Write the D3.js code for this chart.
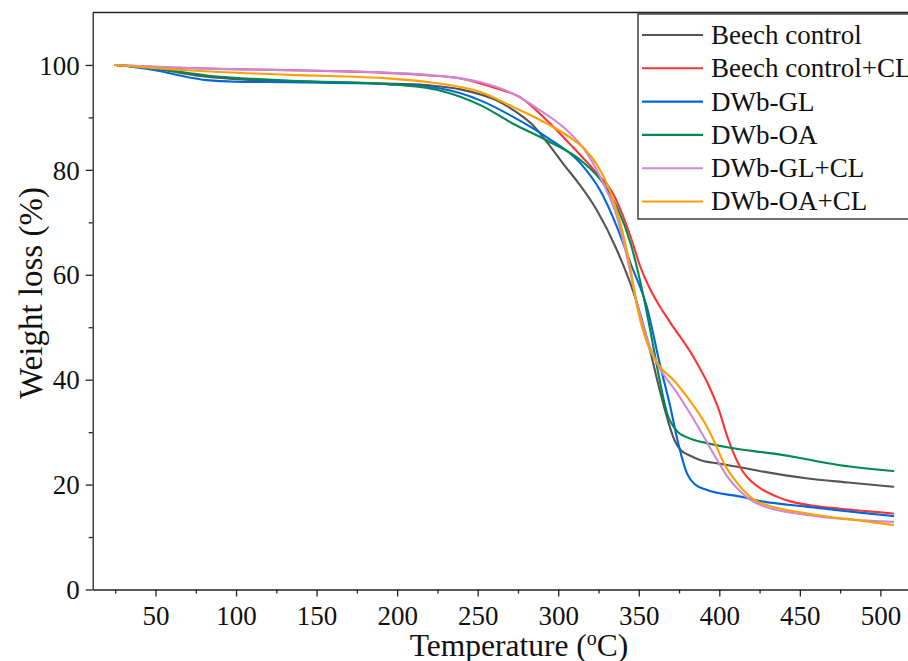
<!DOCTYPE html>
<html>
<head>
<meta charset="utf-8">
<script src="https://cdn.jsdelivr.net/npm/d3@7"></script>
<style>
  html, body { margin: 0; padding: 0; background: #fff; }
  svg { display: block; }
  text { font-family: "Liberation Serif", "Times New Roman", serif; fill: #111; }
</style>
</head>
<body>
<svg id="chart" width="908" height="661"></svg>
<script>
// ---------- data ----------
const seriesNames = ["Beech control", "Beech control+CL", "DWb-GL", "DWb-OA", "DWb-GL+CL", "DWb-OA+CL"];
const seriesColors = ["#555555", "#ff3333", "#0066dd", "#008a50", "#cc88dd", "#ffa000"];

const beechControl = [[25,100],[50,99.3],[75,98.0],[100,97.3],[150,96.8],[200,96.4],[220,96.1],[240,95.3],[262,93.2],[275,90.8],[284,88.6],[293,85.3],[303,81.2],[313,77.3],[324,72.3],[336,65.0],[347,56.4],[357,45.6],[363,38],[368,32.3],[372,28.6],[376,26.6],[382,25.5],[388,24.7],[400,24.0],[413,23.3],[425,22.6],[454,21.2],[480,20.4],[508,19.6]];
const beechControlCL = [[25,100],[50,99.6],[100,99.2],[150,98.9],[200,98.4],[220,98.0],[240,97.4],[262,95.5],[276,93.9],[293,89.4],[307,85.0],[324,79.3],[334,75.5],[345,67.2],[351,61.5],[357,57.3],[363,54.0],[370,50.7],[384,44.3],[394,38.5],[400,34],[405,29.1],[410,25.2],[415,22.3],[420,20.6],[426,19.2],[435,17.8],[444,16.8],[460,15.9],[475,15.4],[508,14.5]];
const dwbGL = [[25,100],[50,99.0],[65,98.0],[82,97.1],[100,96.8],[134,96.7],[196,96.3],[227,95.5],[252,93.2],[272,90.1],[293,86.2],[314,81.2],[326,76.1],[336.5,69.1],[345,62.1],[355,53.9],[363,43.1],[369.6,34.8],[374,28.5],[380,22.1],[385,20.0],[392,19.0],[415,17.6],[423,17.0],[454,15.8],[508,14.0]];
const dwbOA = [[25,100],[51,99.3],[82,98.0],[134,97.0],[196,96.3],[227,95.1],[252,92.3],[272,88.8],[293,85.6],[314,81.8],[328,77.4],[336.5,72.9],[345,65.9],[353,55.8],[358,48],[361.4,42.4],[367.6,33.6],[374,30.1],[380,29.0],[394,27.8],[426,26.2],[434,25.9],[475,23.7],[508,22.6]];
const dwbGLCL = [[25,100],[72,99.4],[134,99.0],[196,98.5],[227,97.9],[252,96.7],[272,94.5],[289,91.3],[303,88.2],[318,83.1],[328,77.4],[336.5,71.0],[342.7,63.4],[349,54.5],[355,48],[361.4,43.1],[374,37.4],[382,33.5],[388,30.4],[399,24.5],[405,21.5],[413,18.7],[423.5,16.4],[454.5,14.2],[508,12.9]];
const dwbOACL = [[25,100],[50,99.4],[72,98.95],[134,98.1],[196,97.4],[220,96.7],[252,94.8],[272,92.0],[293,88.8],[310,85.6],[317,83.8],[324,81.0],[332,76.1],[338.6,69.8],[345,60.9],[349,53.9],[357,45.6],[363.4,42.4],[372,39.8],[380,36.7],[392,31.2],[396,28.8],[403,24.0],[413,19.6],[423.5,16.8],[454.5,14.5],[485.5,13.2],[508,12.3]];
const seriesData = [beechControl, beechControlCL, dwbGL, dwbOA, dwbGLCL, dwbOACL];

const xMajorTicks = [50,100,150,200,250,300,350,400,450,500];
const xMinorTicks = [25,75,125,175,225,275,325,375,425,475,525];
const yMajorTicks = [0,20,40,60,80,100];
const yMinorTicks = [10,30,50,70,90];

// ---------- layout ----------
const svg = d3.select("#chart");
const mLeft = 92.7, mBottom = 589.5, mTop = 12.5;
const x = d3.scaleLinear().domain([11, 525]).range([mLeft, mLeft + 514 * 1.6108]);
const y = d3.scaleLinear().domain([0, 110]).range([mBottom, mTop]);

// frame top
svg.append("line").attr("x1", mLeft).attr("x2", 920).attr("y1", mTop).attr("y2", mTop)
  .attr("stroke", "#222").attr("stroke-width", 1.3);

// x axis
const gx = svg.append("g").attr("transform", `translate(0,${mBottom})`);
gx.call(d3.axisBottom(x).tickValues(xMajorTicks).tickSize(7).tickSizeOuter(0).tickPadding(9).tickFormat(d3.format("d")));
const gxm = svg.append("g").attr("transform", `translate(0,${mBottom})`);
gxm.call(d3.axisBottom(x).tickValues(xMinorTicks).tickSize(4).tickSizeOuter(0).tickFormat(""));
gxm.select(".domain").remove();

// y axis
const gy = svg.append("g").attr("transform", `translate(${mLeft},0)`);
gy.call(d3.axisLeft(y).tickValues(yMajorTicks).tickSize(7).tickSizeOuter(0).tickPadding(6).tickFormat(d3.format("d")));
const gym = svg.append("g").attr("transform", `translate(${mLeft},0)`);
gym.call(d3.axisLeft(y).tickValues(yMinorTicks).tickSize(4).tickSizeOuter(0).tickFormat(""));
gym.select(".domain").remove();

svg.selectAll(".domain").attr("stroke", "#222").attr("stroke-width", 1.3);
svg.selectAll(".tick line").attr("stroke", "#222").attr("stroke-width", 1.3);
svg.selectAll(".tick text").style("font-family", '"Liberation Serif", serif').attr("font-size", 27).attr("fill", "#111");
gx.selectAll(".tick text").attr("dy", "0.71em");
gy.selectAll(".tick text").attr("dy", "0.34em");

// axis titles
const xt = svg.append("text").attr("x", 519).attr("y", 656).attr("text-anchor", "middle").attr("font-size", 31.5);
xt.append("tspan").text("Temperature (");
xt.append("tspan").attr("font-size", 20).attr("dy", -11).text("o");
xt.append("tspan").attr("dy", 11).text("C)");

svg.append("text").attr("transform", "translate(42,293) rotate(-90)")
  .attr("text-anchor", "middle").attr("font-size", 33).text("Weight loss (%)");

// lines
const line = d3.line().x(d => x(d[0])).y(d => y(d[1])).curve(d3.curveMonotoneX);
seriesData.forEach((s, i) => {
  svg.append("path").datum(s).attr("d", line).attr("fill", "none")
    .attr("stroke", seriesColors[i]).attr("stroke-width", 2.1)
    .attr("stroke-linejoin", "round").attr("stroke-linecap", "round");
});

// legend
const lg = svg.append("g");
lg.append("rect").attr("x", 638).attr("y", 14).attr("width", 290).attr("height", 205)
  .attr("fill", "#fff").attr("stroke", "#222").attr("stroke-width", 1.3);
seriesNames.forEach((n, i) => {
  const cy = 35 + i * 33.3;
  lg.append("line").attr("x1", 642).attr("x2", 703).attr("y1", cy).attr("y2", cy)
    .attr("stroke", seriesColors[i]).attr("stroke-width", 2.1);
  lg.append("text").attr("x", 711).attr("y", cy).attr("dy", "0.33em").attr("font-size", 27).text(n);
});
</script>
</body>
</html>
